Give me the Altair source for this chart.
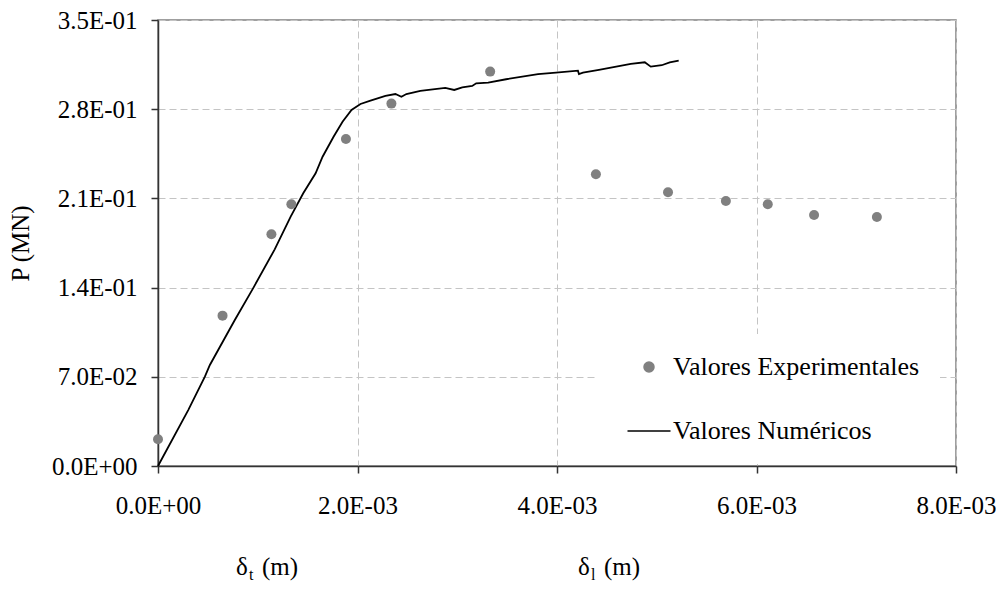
import altair as alt
import pandas as pd

# ---- data ----
SERIES = ["Valores Experimentales", "Valores Numéricos"]

# numerical curve: displacement in mm (x 1e-3 m), load in MN
NUM_X_MM = [0, 0.303, 0.47, 0.52, 0.77, 0.953, 1.17, 1.33, 1.456, 1.58, 1.65, 1.76,
            1.85, 1.94, 2.03, 2.13, 2.28, 2.38, 2.44, 2.49, 2.63, 2.88, 2.97, 3.05,
            3.15, 3.19, 3.31, 3.49, 3.81, 3.99, 4.21, 4.22, 4.26, 4.42, 4.74, 4.88,
            4.94, 5.05, 5.13, 5.22]
NUM_P = [0, 0.0439, 0.0701, 0.0793, 0.1146, 0.1394, 0.170, 0.1957, 0.2140, 0.2297,
         0.2427, 0.2584, 0.2702, 0.2794, 0.2841, 0.2867, 0.2904, 0.2919, 0.2898,
         0.2919, 0.2943, 0.2967, 0.2951, 0.2972, 0.2982, 0.3003, 0.3008, 0.3035,
         0.3076, 0.3087, 0.3102, 0.3076, 0.3087, 0.3108, 0.3155, 0.3168, 0.3134,
         0.3145, 0.3168, 0.3181]

# experimental points
EXP_X_MM = [0, 0.647, 1.137, 1.337, 1.884, 2.34, 3.33, 4.39, 5.113, 5.693, 6.113,
            6.577, 7.207]
EXP_P = [0.021, 0.118, 0.1818, 0.2054, 0.2566, 0.2844, 0.3095, 0.2289, 0.2148,
         0.2080, 0.2054, 0.1970, 0.1954]

X_TICKS = [0, 0.002, 0.004, 0.006, 0.008]
Y_TICKS = [0, 0.07, 0.14, 0.21, 0.28, 0.35]

num = pd.DataFrame({"d": [v * 1e-3 for v in NUM_X_MM], "P": NUM_P, "serie": SERIES[1]})
exp = pd.DataFrame({"d": [v * 1e-3 for v in EXP_X_MM], "P": EXP_P, "serie": SERIES[0]})

FONT = "Liberation Serif"
EXPO = "floor(log(datum.value) / LN10 + 1e-9)"
SCI = ("datum.value == 0 ? '0.0E+00' : format(datum.value / pow(10, " + EXPO + "), '.1f')"
       " + 'E-' + format(-" + EXPO + ", '02d')")

x_enc = alt.X("d:Q", scale=alt.Scale(domain=[0, 0.008], nice=False, zero=False),
              axis=alt.Axis(values=X_TICKS, labelExpr=SCI, title=None, tickSize=7,
                            labelPadding=20, labelFlush=False, grid=True))
y_enc = alt.Y("P:Q", scale=alt.Scale(domain=[0, 0.35], nice=False),
              axis=alt.Axis(values=Y_TICKS, labelExpr=SCI, title="P (MN)", tickSize=7,
                            labelPadding=14, titlePadding=18, labelFlush=False, grid=True))

leg = alt.Legend(title=None, orient="none", legendX=439, legendY=314, fillColor="white",
                 padding=20, rowPadding=38, symbolSize=100, symbolStrokeWidth=1.5,
                 symbolOffset=19, labelOffset=11, labelFont=FONT, labelFontSize=26,
                 labelColor="black", labelLimit=0,
                 labelExpr="datum.label + '\u00a0\u00a0'")

col_scale = alt.Scale(domain=SERIES, range=["#808080", "#000000"])
shape_scale = alt.Scale(domain=SERIES, range=["circle", "M-4.3,0H4.3"])

points = alt.Chart(exp).mark_point(filled=True, size=100, opacity=1, strokeWidth=0).encode(
    x=x_enc, y=y_enc,
    fill=alt.Fill("serie:N", scale=col_scale, legend=leg),
    stroke=alt.Stroke("serie:N", scale=col_scale, legend=leg),
    shape=alt.Shape("serie:N", scale=shape_scale, legend=leg),
)
line = alt.Chart(num).mark_line(strokeWidth=1.8).encode(
    x=x_enc, y=y_enc,
    stroke=alt.Stroke("serie:N", scale=col_scale, legend=leg),
)


def txt(s, x, y, size):
    return alt.Chart(pd.DataFrame({"s": [s]})).mark_text(
        align="left", baseline="alphabetic", font=FONT, fontSize=size, color="black"
    ).encode(x=alt.value(x), y=alt.value(y), text="s:N")


titles = [
    txt("δ", 78, 555, 25), txt("t", 91, 560, 16), txt("(m)", 104, 555, 25),
    txt("δ", 420, 555, 25), txt("l", 433, 560, 16), txt("(m)", 446, 555, 25),
]

chart = alt.layer(line, points, *titles).properties(
    width=798, height=446, autosize="none", background="white",
    padding={"left": 150, "top": 12, "right": 40, "bottom": 118},
).configure_view(stroke="#808080", strokeWidth=1.5).configure_axis(
    domainColor="#333333", domainWidth=1.5, tickColor="#333333", tickWidth=1.5,
    gridColor="#c4c4c4", gridDash=[7, 4], gridWidth=1,
    labelFont=FONT, labelFontSize=25, labelColor="black",
    titleFont=FONT, titleFontSize=25, titleFontWeight="normal", titleColor="black",
)

chart.save("out.html", embed_options={"renderer": "svg", "actions": False})
